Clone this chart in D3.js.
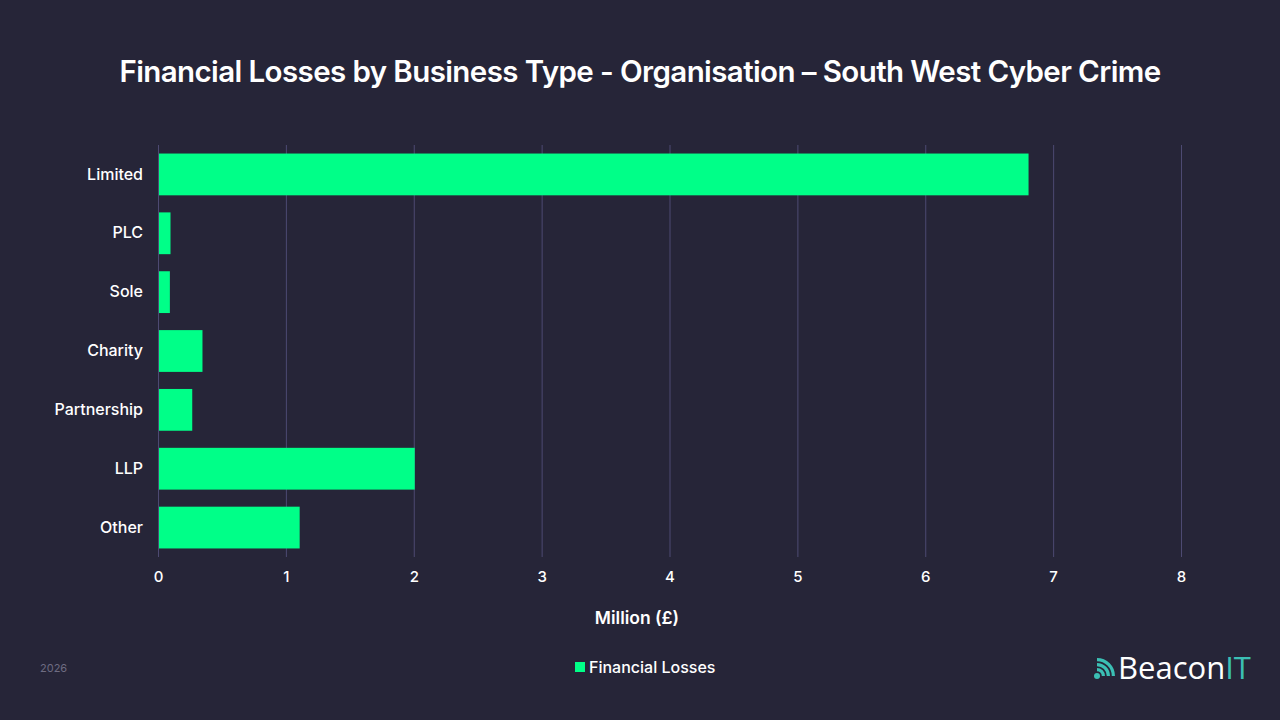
<!DOCTYPE html>
<html>
<head>
<meta charset="utf-8">
<script src="https://cdn.jsdelivr.net/npm/d3@7"></script>
<style>
  html, body { margin: 0; padding: 0; background: #262538; }
  svg { display: block; font-family: Inter, "Noto Sans", sans-serif; }
</style>
</head>
<body>
<div id="chart"></div>
<script>
// data
const categories = ["Limited", "PLC", "Sole", "Charity", "Partnership", "LLP", "Other"];
const losses = [6.80, 0.09, 0.085, 0.34, 0.26, 2.0, 1.10];
const xTicks = [0, 1, 2, 3, 4, 5, 6, 7, 8];
const seriesName = "Financial Losses";

const W = 1280, H = 720;
const margin = {top: 145, right: 99, bottom: 163, left: 158};
const width = W - margin.left - margin.right,
  height = H - margin.top - margin.bottom;

const svg = d3.select("#chart")
  .append("svg")
  .attr("width", W)
  .attr("height", H);

svg.append("rect")
  .attr("width", W).attr("height", H)
  .attr("fill", "#262538");

// title
svg.append("text")
  .attr("x", W / 2)
  .attr("y", 82)
  .attr("text-anchor", "middle")
  .attr("fill", "#ffffff")
  .attr("font-size", 29.5)
  .attr("font-weight", 600)
  .attr("letter-spacing", -0.6)
  .text("Financial Losses by Business Type - Organisation \u2013 South West Cyber Crime");

const g = svg.append("g")
  .attr("transform", "translate(" + margin.left + "," + margin.top + ")");

const x = d3.scaleLinear()
  .domain([0, 8])
  .range([0, width]);

const y = d3.scaleBand()
  .domain(categories)
  .range([0, height])
  .paddingInner(0.29)
  .paddingOuter(0.145);

// gridlines
g.selectAll(".grid")
  .data(xTicks)
  .enter().append("line")
  .attr("class", "grid")
  .attr("x1", d => x(d) + 0.5)
  .attr("x2", d => x(d) + 0.5)
  .attr("y1", 0)
  .attr("y2", height)
  .attr("stroke", "#4d4a72")
  .attr("stroke-width", 1);

// bars
g.selectAll(".bar")
  .data(categories.map((c, i) => ({cat: c, value: losses[i]})))
  .enter().append("rect")
  .attr("class", "bar")
  .attr("x", x(0) + 1)
  .attr("y", d => y(d.cat))
  .attr("width", d => x(d.value) - x(0))
  .attr("height", y.bandwidth())
  .attr("fill", "#00ff88");

// x axis
const xAxis = g.append("g")
  .attr("transform", "translate(0," + height + ")")
  .call(d3.axisBottom(x).tickValues(xTicks).tickSize(0).tickPadding(14));
xAxis.select(".domain").remove();
xAxis.selectAll("text")
  .attr("fill", "#ffffff")
  .attr("font-size", 15)
  .attr("font-weight", 500)
  .attr("font-family", "Inter, sans-serif");

// y axis
const yAxis = g.append("g")
  .call(d3.axisLeft(y).tickSize(0).tickPadding(15));
yAxis.select(".domain").remove();
yAxis.selectAll("text")
  .attr("fill", "#ffffff")
  .attr("font-size", 16)
  .attr("font-weight", 500)
  .attr("font-family", "Inter, sans-serif");

// axis title
svg.append("text")
  .attr("x", 637)
  .attr("y", 624)
  .attr("text-anchor", "middle")
  .attr("fill", "#ffffff")
  .attr("font-size", 17.5)
  .attr("font-weight", 600)
  .text("Million (\u00a3)");

// legend
const legend = svg.append("g")
  .attr("transform", "translate(575,662)");
legend.append("rect")
  .attr("width", 10).attr("height", 10)
  .attr("fill", "#00ff88");
legend.append("text")
  .attr("x", 14)
  .attr("y", 10.5)
  .attr("fill", "#ffffff")
  .attr("font-size", 16)
  .attr("font-weight", 500)
  .text(seriesName);

// year
svg.append("text")
  .attr("x", 40)
  .attr("y", 672)
  .attr("fill", "#6e6c82")
  .attr("font-size", 11)
  .text("2026");

// logo
const logo = svg.append("g")
  .attr("transform", "translate(1097,676)");
logo.append("circle")
  .attr("cx", 0).attr("cy", 0).attr("r", 3)
  .attr("fill", "#3bbfb4");
[8, 13, 18].forEach(r => {
  logo.append("path")
    .attr("d", d3.arc()({innerRadius: r - 3.2, outerRadius: r, startAngle: 0, endAngle: Math.PI / 2}))
    .attr("fill", "#3bbfb4");
});
const logoText = logo.append("text")
  .attr("x", 21)
  .attr("y", 3)
  .attr("font-size", 31)
  .attr("font-weight", 400)
  .attr("font-family", "'Open Sans', sans-serif");
logoText.append("tspan").attr("fill", "#ffffff").text("Beacon");
logoText.append("tspan").attr("fill", "#3bbfb4").text("IT");
</script>
</body>
</html>
